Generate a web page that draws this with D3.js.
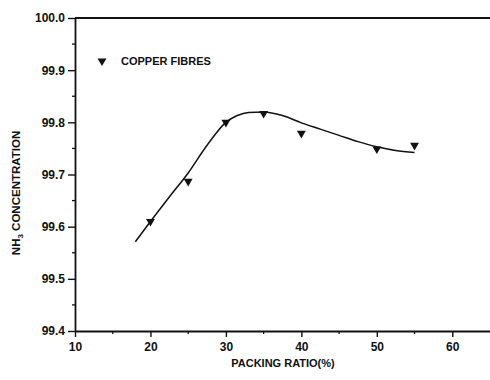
<!DOCTYPE html>
<html>
<head>
<meta charset="utf-8">
<script src="https://d3js.org/d3.v7.min.js"></script>
<style>
  body { margin: 0; background: #fff; }
  text { font-family: "Liberation Sans", Arial, sans-serif; font-weight: bold; fill: #111; }
  .axis path, .axis line { stroke: #111; }
</style>
</head>
<body>
<script>
// measured points (copper fibres)
var packing = [20, 25, 30, 35, 40, 50, 55];
var nh3 = [99.61, 99.687, 99.80, 99.817, 99.779, 99.749, 99.756];

// fitted curve
var fitX = [18, 20, 22.5, 25, 27.5, 30, 31.5, 33, 35, 37.5, 40, 42.5, 45, 47.5, 50, 52.5, 55];
var fitY = [99.571, 99.61, 99.657, 99.703, 99.756, 99.800, 99.813, 99.819, 99.82, 99.813, 99.799, 99.787, 99.775, 99.763, 99.753, 99.746, 99.742];

var xTicks = [10, 20, 30, 40, 50, 60];
var yTicks = [99.4, 99.5, 99.6, 99.7, 99.8, 99.9, 100.0];

var W = 490, H = 380;
var svg = d3.select("body").append("svg").attr("width", W).attr("height", H);

var x = d3.scaleLinear().domain([10, 65]).range([75, 490]);
var y = d3.scaleLinear().domain([99.4, 100.0]).range([331, 18]);

// minor ticks
var xMinor = d3.range(15, 65, 10);
var yMinor = d3.range(99.45, 100, 0.1);

svg.append("g").selectAll("line").data(xMinor).join("line")
  .attr("x1", d => x(d)).attr("x2", d => x(d))
  .attr("y1", 331).attr("y2", 334)
  .attr("stroke", "#111").attr("stroke-width", 1.3);
svg.append("g").selectAll("line").data(yMinor).join("line")
  .attr("y1", d => y(d)).attr("y2", d => y(d))
  .attr("x1", 75).attr("x2", 72)
  .attr("stroke", "#111").attr("stroke-width", 1.3);

// x axis
var gx = svg.append("g").attr("class", "axis")
  .attr("transform", "translate(0,331)")
  .call(d3.axisBottom(x).tickValues(xTicks).tickFormat(d3.format("d")).tickSize(6).tickSizeOuter(0));
gx.select(".domain").attr("stroke-width", 1.8);
gx.selectAll(".tick line").attr("stroke-width", 1.4);
gx.selectAll("text").attr("font-size", 12).attr("dy", "0.95em").attr("fill", "#111");

// y axis
var gy = svg.append("g").attr("class", "axis")
  .attr("transform", "translate(75,0)")
  .call(d3.axisLeft(y).tickValues(yTicks).tickFormat(d3.format(".1f")).tickSize(7).tickSizeOuter(0));
gy.select(".domain").attr("stroke-width", 1.8);
gy.selectAll(".tick line").attr("stroke-width", 1.4);
gy.selectAll("text").attr("font-size", 12).attr("x", -10).attr("fill", "#111");

// top frame line
svg.append("line")
  .attr("x1", x(10)).attr("x2", W)
  .attr("y1", y(100)).attr("y2", y(100))
  .attr("stroke", "#111").attr("stroke-width", 1.8);

// fitted curve
var fit = fitX.map((d, i) => [d, fitY[i]]);
svg.append("path")
  .datum(fit)
  .attr("fill", "none")
  .attr("stroke", "#111")
  .attr("stroke-width", 1.5)
  .attr("d", d3.line().curve(d3.curveMonotoneX).x(d => x(d[0])).y(d => y(d[1])));

// markers
var tri = d3.symbol().type(d3.symbolTriangle).size(34);
svg.append("g").selectAll("path").data(packing).join("path")
  .attr("d", tri)
  .attr("fill", "#111")
  .attr("transform", (d, i) => "translate(" + x(d) + "," + y(nh3[i]) + ") rotate(180)");

// legend
svg.append("path")
  .attr("d", tri)
  .attr("fill", "#111")
  .attr("transform", "translate(102,61) rotate(180)");
svg.append("text")
  .attr("x", 121).attr("y", 64.5)
  .attr("font-size", 11)
  .text("COPPER FIBRES");

// axis titles
svg.append("text")
  .attr("x", 283).attr("y", 367)
  .attr("text-anchor", "middle")
  .attr("font-size", 11)
  .text("PACKING RATIO(%)");

var yt = svg.append("text")
  .attr("transform", "translate(20,193) rotate(-90)")
  .attr("text-anchor", "middle")
  .attr("font-size", 11.5);
yt.append("tspan").text("NH");
yt.append("tspan").attr("font-size", 8).attr("dy", 3).text("3");
yt.append("tspan").attr("dy", -3).text(" CONCENTRATION");
</script>
</body>
</html>
